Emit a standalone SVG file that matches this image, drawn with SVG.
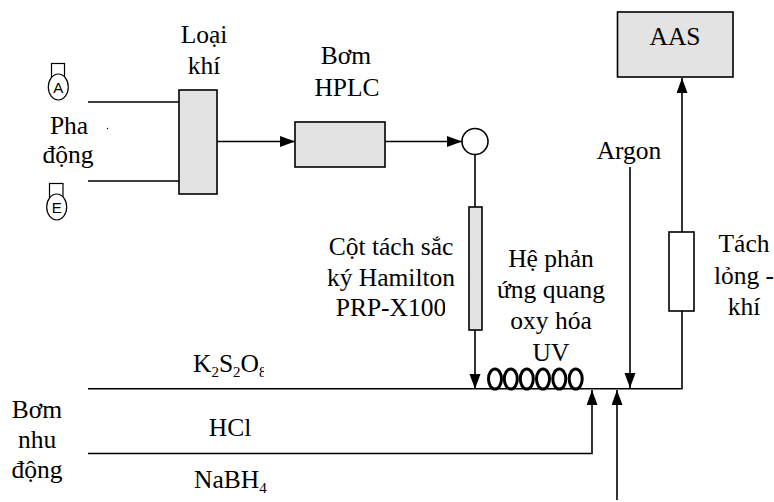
<svg xmlns="http://www.w3.org/2000/svg" width="774" height="502" viewBox="0 0 774 502">
<style>
text{font-family:"Liberation Serif","Times New Roman",serif;font-size:25.500px;fill:#000;text-anchor:middle}
text.s{font-family:"Liberation Sans",Arial,sans-serif;font-size:15px}
text.l{text-anchor:start}
tspan.b{font-size:15px}
.g{fill:#e3e3e3;stroke:#000;stroke-width:1.6}
.w{fill:#fff;stroke:#000;stroke-width:1.6}
.o{fill:none;stroke:#000;stroke-width:1.2}
.c{fill:none;stroke:#000;stroke-width:1.6}
.coil{fill:none;stroke:#000;stroke-width:3}
</style>
<defs>
<marker id="a" markerUnits="userSpaceOnUse" markerWidth="16" markerHeight="12" refX="15" refY="5.500" orient="auto"><path d="M0 0L15 5.500L0 11Z" fill="#000"/></marker>
<clipPath id="c1"><rect x="300" y="290" width="145" height="40"/></clipPath>
<clipPath id="c2"><rect x="180" y="345" width="84" height="40"/></clipPath>
</defs>
<g id="connectors">
<path class="c" d="M88 102H179M88 181H179"/>
<path class="c" d="M217 141.500H295" marker-end="url(#a)"/>
<path class="c" d="M385 141.500H462" marker-end="url(#a)"/>
<path class="c" d="M475 155V207"/>
<path class="c" d="M475 330V389" marker-end="url(#a)"/>
<path class="c" d="M88 388.700H682V311"/>
<path class="c" d="M682 232V78" marker-end="url(#a)"/>
<path class="c" d="M630 167V388" marker-end="url(#a)"/>
<path class="c" d="M88 453.500H592V390" marker-end="url(#a)"/>
<path class="c" d="M617 500V390" marker-end="url(#a)"/>
</g>
<g id="pha-a"><rect class="o" x="51.500" y="63.500" width="13" height="14"/><ellipse class="w" style="stroke-width:1.2" cx="58.300" cy="87" rx="10" ry="13"/><text class="s" x="58.300" y="92.500">A</text></g>
<g id="pha-e"><rect class="o" x="49.500" y="183.500" width="13.500" height="14"/><ellipse class="w" style="stroke-width:1.2" cx="56.700" cy="207" rx="10" ry="13"/><text class="s" x="56.700" y="212.500">E</text></g>
<g id="pha-dong"><text x="69" y="134">Pha</text><text x="68" y="163">động</text><circle cx="107.500" cy="128.500" r="0.700" fill="#000"/></g>
<g id="loai-khi"><rect class="g" x="179" y="90" width="38" height="104"/><text x="204" y="43">Loại</text><text x="204" y="74">khí</text></g>
<g id="bom-hplc"><rect class="g" x="295" y="122" width="90" height="45"/><text x="346" y="64">Bơm</text><text x="347" y="96">HPLC</text></g>
<g id="valve"><circle class="w" cx="475" cy="141.500" r="13"/></g>
<g id="cot-tach"><rect class="g" x="469" y="207" width="13" height="123"/><text x="391" y="255">Cột tách sắc</text><text x="391" y="286">ký Hamilton</text><text x="391" y="316" clip-path="url(#c1)">PRP-X100</text></g>
<g id="he-phan-ung"><ellipse class="coil" cx="495" cy="379" rx="6.500" ry="10"/><ellipse class="coil" cx="510.800" cy="379" rx="6.500" ry="10"/><ellipse class="coil" cx="526.800" cy="379" rx="6.500" ry="10"/><ellipse class="coil" cx="543" cy="379" rx="6.500" ry="10"/><ellipse class="coil" cx="559.300" cy="379" rx="6.500" ry="10"/><ellipse class="coil" cx="575.700" cy="379" rx="6.500" ry="10"/><text x="551" y="267">Hệ phản</text><text x="551" y="298">ứng quang</text><text x="551" y="329">oxy hóa</text><text x="551" y="361">UV</text></g>
<g id="argon"><text x="629" y="159">Argon</text></g>
<g id="tach-long-khi"><rect class="w" x="669" y="232" width="25" height="79"/><text x="744" y="252">Tách</text><text x="744" y="284">lỏng -</text><text x="744" y="315">khí</text></g>
<g id="aas"><rect class="g" x="617.500" y="12" width="115.500" height="65"/><text x="675" y="45">AAS</text></g>
<g id="bom-nhu-dong"><text x="37" y="418">Bơm</text><text x="37" y="448">nhu</text><text x="37" y="478">động</text></g>
<g id="k2s2o8"><text class="l" x="193" y="372" clip-path="url(#c2)">K<tspan class="b" dy="5">2</tspan><tspan dy="-5">S</tspan><tspan class="b" dy="5">2</tspan><tspan dy="-5">O</tspan><tspan class="b" dy="5">8</tspan></text></g>
<g id="hcl"><text x="230" y="436">HCl</text></g>
<g id="nabh4"><text class="l" x="194" y="488">NaBH<tspan class="b" dy="5">4</tspan></text></g>
</svg>
